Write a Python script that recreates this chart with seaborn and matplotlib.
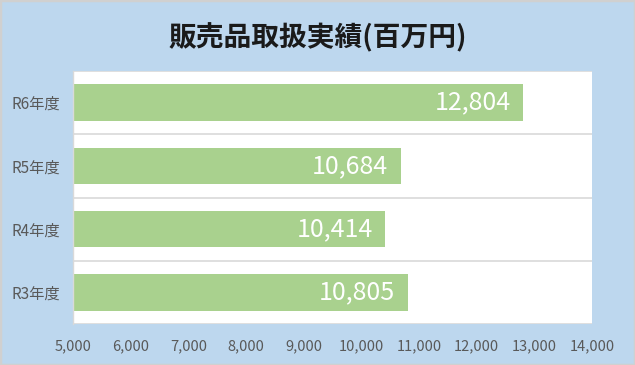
import matplotlib
matplotlib.use("Agg")
import matplotlib.pyplot as plt
import seaborn as sns
import pandas as pd
from matplotlib.patches import Rectangle
from matplotlib.ticker import FuncFormatter, MultipleLocator

categories = ["R6年度", "R5年度", "R4年度", "R3年度"]
values = [12804, 10684, 10414, 10805]
title = "販売品取扱実績(百万円)"

sns.set_theme(style="white")
plt.rcParams['font.family'] = ['Noto Sans CJK JP', 'DejaVu Sans']

BG = "#BDD7EE"
BAR = "#A9D18E"
GRID = "#D9D9D9"
TXT = "#595959"

df = pd.DataFrame({"cat": categories, "val": values})

fig = plt.figure(figsize=(6.35, 3.65), dpi=100)
fig.patch.set_facecolor(BG)
ax = fig.add_axes([73/635, 1-324/365, (592-73)/635, (324-71)/365])
ax.set_facecolor("white")

sns.barplot(data=df, x="val", y="cat", order=categories, color=BAR,
            width=0.58, orient="h", ax=ax, saturation=1, edgecolor=BAR, linewidth=0)

ax.set_xlim(5000, 14000)
ax.set_ylim(len(categories) - 0.5, -0.5)
ax.xaxis.set_major_locator(MultipleLocator(1000))
ax.xaxis.set_major_formatter(FuncFormatter(lambda v, p: f"{int(v):,}"))
ax.set_xlabel("")
ax.set_ylabel("")

ax.set_yticks([i - 0.5 for i in range(len(categories) + 1)], minor=True)
ax.grid(which="minor", axis="y", color=GRID, linewidth=1.2)
ax.tick_params(axis="y", which="minor", length=4, color=GRID, width=1)
ax.tick_params(axis="y", which="major", length=0, labelsize=11, labelcolor=TXT, pad=9)
ax.tick_params(axis="x", which="major", length=0, labelsize=10.5, labelcolor=TXT, pad=11)
for s in ["top", "right", "bottom"]:
    ax.spines[s].set_visible(False)
ax.spines["left"].set_color(GRID)
ax.spines["left"].set_linewidth(1)

for i, v in enumerate(values):
    ax.annotate(f"{v:,}", xy=(v, i), xytext=(-9, 0), textcoords="offset points",
                ha="right", va="center", color="white", fontsize=18)

fig.text(0.5, 1-38/365, title, ha="center", va="center", fontsize=20,
         fontweight="bold", color="#1a1a1a")

fig.patches.append(Rectangle((0, 0), 1, 1, transform=fig.transFigure, fill=False,
                             edgecolor="#D0D0D0", linewidth=2.5, zorder=10))

fig.savefig("out.png", dpi=100, facecolor=BG)
